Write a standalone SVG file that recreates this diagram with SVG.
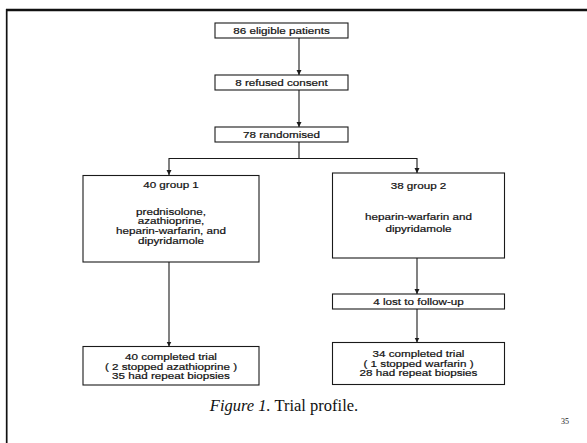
<svg xmlns="http://www.w3.org/2000/svg" width="587" height="443" viewBox="0 0 587 443">
<style>
.bx{fill:#fff;stroke:#1a1a1a;stroke-width:1.1}
.t{font-family:"Liberation Sans",Arial,sans-serif;font-size:9.4px;fill:#111;stroke:#111;stroke-width:0.2;text-anchor:middle}
.c{fill:none;stroke:#1a1a1a;stroke-width:1.1}
.cap{font-family:"Liberation Serif","Times New Roman",serif;font-size:16.5px;fill:#111;text-anchor:middle}
</style>
<defs>
<marker id="ah" markerWidth="6" markerHeight="6" refX="5" refY="3" orient="auto" markerUnits="userSpaceOnUse">
<path d="M0,0.5 L5,3 L0,5.5 Z" fill="#1a1a1a"/>
</marker>
</defs>
<rect width="587" height="443" fill="#fff"/>
<g id="frame">
<line x1="6" y1="10" x2="587" y2="10" stroke="#111" stroke-width="2.5"/>
<line x1="6.7" y1="9" x2="6.7" y2="443" stroke="#111" stroke-width="1.7"/>
</g>
<g id="connectors">
<path class="c" d="M299,38 V75" marker-end="url(#ah)"/>
<path class="c" d="M299,90 V127" marker-end="url(#ah)"/>
<path class="c" d="M299,142 V158.5 H169 V175" marker-end="url(#ah)"/>
<path class="c" d="M299,158.5 H417 V173" marker-end="url(#ah)"/>
<path class="c" d="M169,262 V346.5" marker-end="url(#ah)"/>
<path class="c" d="M417,258 V294" marker-end="url(#ah)"/>
<path class="c" d="M417,309 V342.5" marker-end="url(#ah)"/>
</g>
<g id="n-eligible">
<rect class="bx" x="215" y="23" width="133" height="15"/>
<text class="t" transform="translate(281.5,34) scale(1.24,1)">86 eligible patients</text>
</g>
<g id="n-refused">
<rect class="bx" x="215" y="75" width="133" height="15"/>
<text class="t" transform="translate(281.5,86) scale(1.24,1)">8 refused consent</text>
</g>
<g id="n-random">
<rect class="bx" x="215" y="127" width="133" height="15"/>
<text class="t" transform="translate(281.5,138) scale(1.24,1)">78 randomised</text>
</g>
<g id="n-group1">
<rect class="bx" x="83" y="175.5" width="176" height="86.5"/>
<text class="t" transform="translate(171,188) scale(1.24,1)">40 group 1</text>
<text class="t" transform="translate(171,214.8) scale(1.24,1)">prednisolone,</text>
<text class="t" transform="translate(171,224.4) scale(1.24,1)">azathioprine,</text>
<text class="t" transform="translate(171,234) scale(1.24,1)">heparin-warfarin, and</text>
<text class="t" transform="translate(171,243.6) scale(1.24,1)">dipyridamole</text>
</g>
<g id="n-group2">
<rect class="bx" x="332.5" y="173" width="172" height="85"/>
<text class="t" transform="translate(418.5,189) scale(1.24,1)">38 group 2</text>
<text class="t" transform="translate(418.5,220) scale(1.24,1)">heparin-warfarin and</text>
<text class="t" transform="translate(418.5,232) scale(1.24,1)">dipyridamole</text>
</g>
<g id="n-lost">
<rect class="bx" x="332.5" y="294" width="172" height="15"/>
<text class="t" transform="translate(418.5,305) scale(1.24,1)">4 lost to follow-up</text>
</g>
<g id="n-complete1">
<rect class="bx" x="83" y="346.5" width="176" height="38.5"/>
<text class="t" transform="translate(171,360) scale(1.24,1)">40 completed trial</text>
<text class="t" transform="translate(171,369.6) scale(1.24,1)">( 2 stopped azathioprine )</text>
<text class="t" transform="translate(171,379.2) scale(1.24,1)">35 had repeat biopsies</text>
</g>
<g id="n-complete2">
<rect class="bx" x="332.5" y="342.5" width="172" height="42"/>
<text class="t" transform="translate(418.5,357) scale(1.24,1)">34 completed trial</text>
<text class="t" transform="translate(418.5,366.6) scale(1.24,1)">( 1 stopped warfarin )</text>
<text class="t" transform="translate(418.5,376.4) scale(1.24,1)">28 had repeat biopsies</text>
</g>
<g id="caption">
<text class="cap" x="284" y="411"><tspan font-style="italic">Figure 1.</tspan> Trial profile.</text>
<text x="565" y="424" font-family="'Liberation Serif',serif" font-size="8" fill="#222" text-anchor="middle">35</text>
</g>
</svg>
